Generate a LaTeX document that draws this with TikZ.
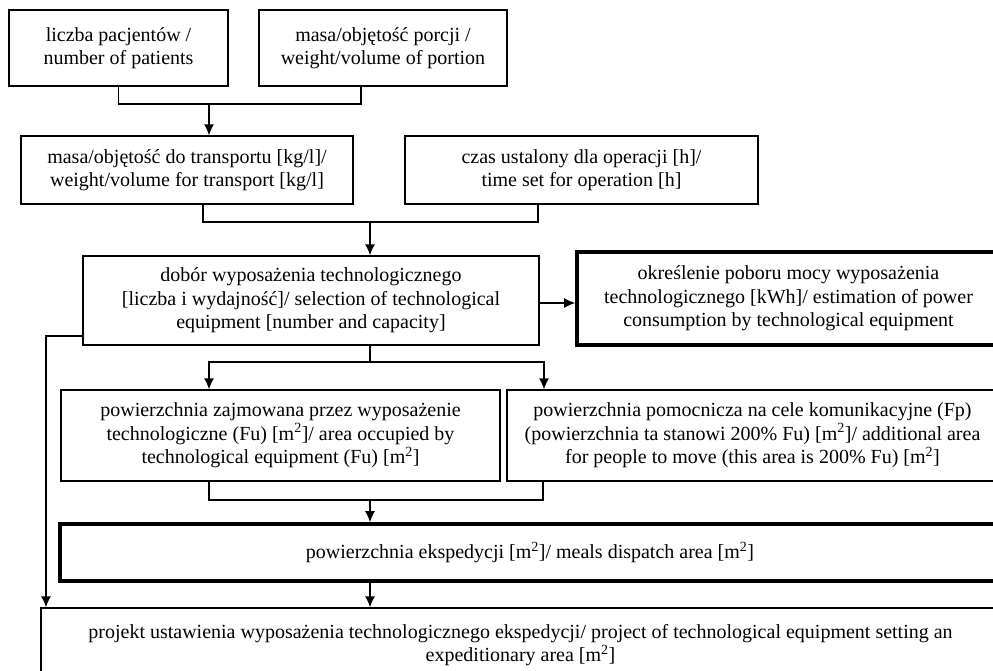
\documentclass[tikz,border=0pt]{standalone}
\usepackage{fontspec}
\setmainfont{Liberation Serif}
\usetikzlibrary{shapes.geometric, arrows.meta}
\tikzstyle{box} = [rectangle, text centered, align=center, draw=black, fill=white, line width=1.3pt, inner sep=2pt, font=\fontsize{20}{23.5}\selectfont]
\tikzstyle{boldbox} = [box, line width=3.6pt]
\tikzstyle{line} = [line width=1.3pt]
\tikzstyle{arrow} = [line width=1.3pt, -{Latex[length=11pt,width=10pt]}]

\begin{document}
\begin{tikzpicture}[x=1pt, y=-1pt]
        \useasboundingbox (0,0) rectangle (993,670);
        \clip (0,0) rectangle (993,670);
        % Nodes
        \node (patients) [box, minimum width=219pt, minimum height=76pt] at (118.5,48) {liczba pacjentów /\\ number of patients};
        \node (portion) [box, minimum width=248pt, minimum height=76pt] at (383,48) {masa/objętość porcji /\\ weight/volume of portion};
        \node (transport) [box, minimum width=332pt, minimum height=68pt] at (187,170) {masa/objętość do transportu [kg/l]/\\ weight/volume for transport [kg/l]};
        \node (timeop) [box, minimum width=353pt, minimum height=68pt] at (581.5,170) {czas ustalony dla operacji [h]/\\ time set for operation [h]};
        \node (selection) [box, minimum width=456pt, minimum height=89pt] at (311,300.5) {dobór wyposażenia technologicznego\\ {}[liczba i wydajność]/ selection of technological\\ equipment [number and capacity]};
        \node (power) [boldbox, minimum width=423pt, minimum height=93pt] at (788.5,298.5) {określenie poboru mocy wyposażenia\\ technologicznego [kWh]/ estimation of power\\ consumption by technological equipment};
        \node (occupied) [box, minimum width=439pt, minimum height=91pt] at (280.5,435.5) {powierzchnia zajmowana przez wyposażenie\\ technologiczne (Fu) [m\textsuperscript{2}]/ area occupied by\\ technological equipment (Fu) [m\textsuperscript{2}]};
        \node (auxarea) [box, minimum width=491pt, minimum height=91pt] at (752.5,435.5) {powierzchnia pomocnicza na cele komunikacyjne (Fp)\\ (powierzchnia ta stanowi 200\% Fu) [m\textsuperscript{2}]/ additional area\\ for people to move (this area is 200\% Fu) [m\textsuperscript{2}]};
        \node (dispatch) [boldbox, minimum width=940pt, minimum height=57pt] at (530,552.5) {powierzchnia ekspedycji [m\textsuperscript{2}]/ meals dispatch area [m\textsuperscript{2}]};
        \node (project) [box, minimum width=959pt, minimum height=74pt] at (520.5,645) {projekt ustawienia wyposażenia technologicznego ekspedycji/ project of technological equipment setting an\\ expeditionary area [m\textsuperscript{2}]};

        % Arrows
        \coordinate (joinA) at (209,104);
        \draw [line] (patients.south) |- (joinA) -| ([xshift=-22pt]portion.south);
        \draw [arrow] (joinA) -- (joinA |- transport.north);

        \coordinate (joinB) at (370,222);
        \draw [line] ([xshift=16pt]transport.south) |- (joinB) -| ([xshift=-43.5pt]timeop.south);
        \draw [arrow] (joinB) -- (joinB |- selection.north);

        \draw [arrow] ([yshift=-2.5pt]selection.east) -- ([yshift=-2.5pt]selection.east -| power.west);

        \coordinate (joinC) at (370,362);
        \draw [line] (joinC |- selection.south) -- (joinC);
        \draw [arrow] (joinC) -| ([xshift=-71.5pt]occupied.north);
        \draw [arrow] (joinC) -| ([xshift=-208.5pt]auxarea.north);

        \coordinate (joinD) at (370,500);
        \draw [line] ([xshift=-71.5pt]occupied.south) |- (joinD) -| ([xshift=-209.5pt]auxarea.south);
        \draw [arrow] (joinD) -- (joinD |- dispatch.north);
        \draw [arrow] (joinD |- dispatch.south) -- (joinD |- project.north);

        \coordinate (bypass) at (46,336);
        \draw [arrow] (selection.west |- bypass) -- (bypass) -- (bypass |- project.north);
    \end{tikzpicture}
\end{document}
